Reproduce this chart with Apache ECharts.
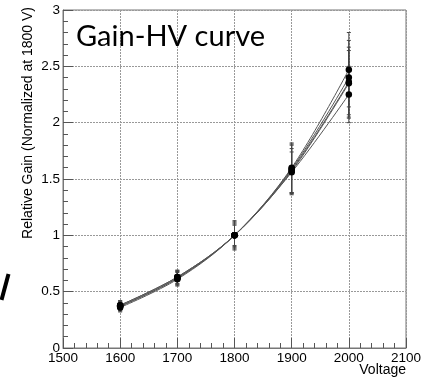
<!DOCTYPE html>
<html>
<head>
<meta charset="utf-8">
<script src="https://cdn.jsdelivr.net/npm/echarts@6/dist/echarts.min.js"></script>
<style>html,body{margin:0;padding:0;background:#fff;}#c{width:431px;height:378px;}</style>
</head>
<body>
<div id="c"></div>
<script>
const voltages = [1600, 1700, 1800, 1900, 2000];
const gainA = [0.36, 0.61, 1.00, 1.60, 2.47];
const gainB = [0.37, 0.62, 1.00, 1.59, 2.40];
const gainC = [0.38, 0.63, 1.00, 1.58, 2.36];
const gainD = [0.37, 0.62, 1.00, 1.57, 2.35];
const gainE = [0.38, 0.63, 1.00, 1.56, 2.25];
const lowA = [0.32, 0.55, 0.87, 1.38, 2.14];
const highA = [0.40, 0.67, 1.13, 1.82, 2.80];
const lowB = [0.33, 0.56, 0.88, 1.37, 2.07];
const highB = [0.41, 0.68, 1.12, 1.81, 2.73];
const lowC = [0.34, 0.57, 0.89, 1.36, 2.05];
const highC = [0.42, 0.69, 1.11, 1.80, 2.67];
const lowD = [0.33, 0.56, 0.90, 1.37, 2.04];
const highD = [0.41, 0.68, 1.10, 1.77, 2.64];
const lowE = [0.34, 0.57, 0.91, 1.38, 2.00];
const highE = [0.42, 0.69, 1.09, 1.74, 2.50];
const xTicks = [1500, 1600, 1700, 1800, 1900, 2000, 2100];
const yTicks = [0, 0.5, 1, 1.5, 2, 2.5, 3];

const groups = [
  [gainA, lowA, highA],
  [gainB, lowB, highB],
  [gainC, lowC, highC],
  [gainD, lowD, highD],
  [gainE, lowE, highE]
];

const font = 'Liberation Sans, Arial, Helvetica, sans-serif';
const series = [];
groups.forEach(function (g) {
  series.push({
    type: 'custom',
    z: 2,
    renderItem: function (params, api) {
      const x = api.value(0);
      const top = api.coord([x, api.value(2)]);
      const bot = api.coord([x, api.value(1)]);
      const w = 2;
      return {
        type: 'group',
        children: [
          {type: 'line', shape: {x1: top[0], y1: top[1], x2: bot[0], y2: bot[1]}, style: {stroke: '#444', lineWidth: 1}},
          {type: 'line', shape: {x1: top[0] - w, y1: top[1], x2: top[0] + w, y2: top[1]}, style: {stroke: '#444', lineWidth: 1}},
          {type: 'line', shape: {x1: bot[0] - w, y1: bot[1], x2: bot[0] + w, y2: bot[1]}, style: {stroke: '#444', lineWidth: 1}}
        ]
      };
    },
    data: voltages.map(function (v, i) { return [v, g[1][i], g[2][i]]; }),
    silent: true
  });
  series.push({
    type: 'line',
    z: 3,
    smooth: 0.35,
    data: voltages.map(function (v, i) { return [v, g[0][i]]; }),
    symbol: 'circle',
    symbolSize: 6.5,
    showSymbol: true,
    itemStyle: {color: '#000'},
    lineStyle: {color: '#555', width: 1},
    silent: true
  });
});

const chart = echarts.init(document.getElementById('c'), null, {renderer: 'canvas'});
chart.setOption({
  animation: false,
  backgroundColor: '#fff',
  grid: {left: 63, right: 25, top: 10, bottom: 30, show: true, borderColor: '#777', borderWidth: 1, containLabel: false},
  xAxis: {
    type: 'value', min: xTicks[0], max: xTicks[xTicks.length - 1], interval: 100,
    axisLine: {show: true, lineStyle: {color: '#777', width: 1}},
    axisTick: {show: true, inside: true, length: 10, lineStyle: {color: '#555'}},
    minorTick: {show: true, splitNumber: 5, length: 5, lineStyle: {color: '#555'}},
    axisLabel: {color: '#000', fontFamily: font, fontSize: 13.5, margin: 3, formatter: function (v) { return String(v); }},
    splitLine: {show: true, lineStyle: {color: '#999', type: [2, 1], width: 1}}
  },
  yAxis: {
    type: 'value', min: yTicks[0], max: yTicks[yTicks.length - 1], interval: 0.5,
    axisLine: {show: true, lineStyle: {color: '#777', width: 1}},
    axisTick: {show: true, inside: true, length: 10, lineStyle: {color: '#555'}},
    minorTick: {show: true, splitNumber: 5, length: 5, lineStyle: {color: '#555'}},
    axisLabel: {color: '#000', fontFamily: font, fontSize: 13.5, margin: 3, formatter: function (v) { return String(v); }},
    splitLine: {show: true, lineStyle: {color: '#999', type: [2, 1], width: 1}}
  },
  graphic: [
    {type: 'text', x: 76, y: 37, z: 10, style: {text: 'Gain-HV curve', font: '29px Lato, sans-serif', fill: '#000', verticalAlign: 'middle'}},
    {type: 'text', x: 406, y: 370, z: 10, style: {text: 'Voltage', font: '14px ' + font, fill: '#000', align: 'right', verticalAlign: 'middle'}},
    {type: 'text', x: 28, y: 7, z: 10, rotation: Math.PI / 2, style: {text: 'Relative Gain (Normalized at 1800 V)', font: '14px ' + font, fill: '#000', align: 'right', verticalAlign: 'middle'}},
    {type: 'polyline', z: 10, shape: {points: [[8.5, 274], [1.5, 300]]}, style: {stroke: '#000', lineWidth: 4}}
  ],
  series: series
});
</script>
</body>
</html>
